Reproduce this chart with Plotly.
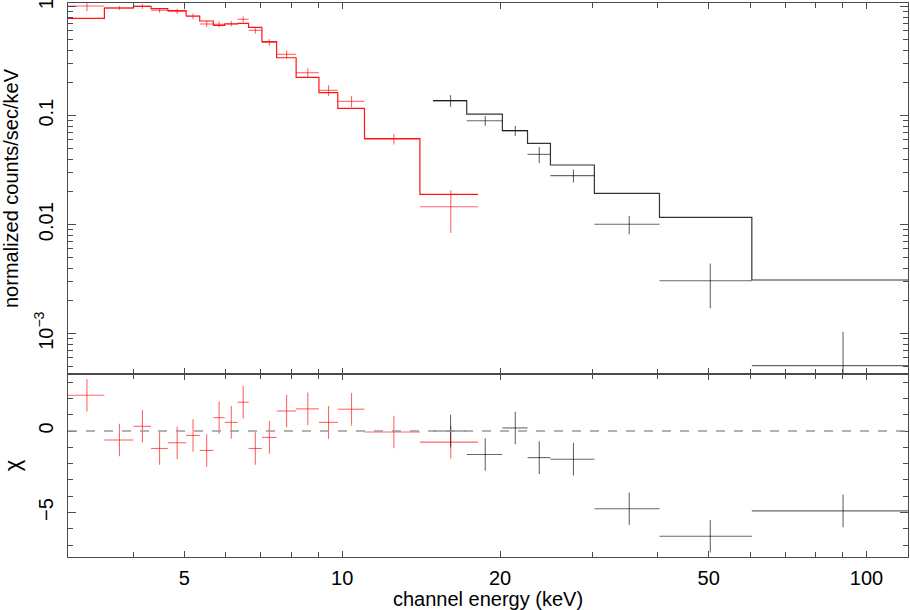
import math
import plotly.graph_objects as go

# red spectrum (low energy instrument)
red_lo = [3.0, 3.52, 4.00, 4.32, 4.65, 5.04, 5.35, 5.68, 5.97, 6.32, 6.63, 7.03, 7.50, 8.17, 9.03, 9.81, 11.03, 14.07]
red_hi = [3.52, 4.00, 4.32, 4.65, 5.04, 5.35, 5.68, 5.97, 6.32, 6.63, 7.03, 7.50, 8.17, 9.03, 9.81, 11.03, 14.07, 18.16]
red_data = [1.015, 0.973, 1.008, 0.927, 0.907, 0.816, 0.694, 0.690, 0.698, 0.766, 0.607, 0.471, 0.366, 0.248, 0.171, 0.1355, 0.0612, 0.0146]
red_err = [0.107, 0.041, 0.053, 0.045, 0.052, 0.052, 0.044, 0.047, 0.041, 0.045, 0.038, 0.032, 0.031, 0.024, 0.019, 0.016, 0.0069, 0.0062]
red_model = [0.783, 0.973, 1.008, 0.959, 0.919, 0.822, 0.739, 0.675, 0.694, 0.704, 0.647, 0.478, 0.340, 0.225, 0.1626, 0.1169, 0.0615, 0.0190]
red_chi = [2.2, -0.55, 0.29, -1.07, -0.72, -0.27, -1.19, 0.82, 0.53, 1.77, -1.07, -0.39, 1.23, 1.36, 0.53, 1.34, -0.06, -0.68]

# black spectrum (high energy instrument)
blk_lo = [14.91, 17.28, 20.21, 22.57, 24.96, 30.27, 40.29, 60.44]
blk_hi = [17.28, 20.21, 22.57, 24.96, 30.27, 40.29, 60.44, 120.0]
blk_data = [0.1373, 0.0900, 0.0729, 0.0442, 0.0282, 0.01009, 0.00306, 0.000509]
blk_err = [0.017, 0.0092, 0.0077, 0.0074, 0.0038, 0.0019, 0.00135, 0.000534]
blk_model = [0.1373, 0.1036, 0.0729, 0.0558, 0.0353, 0.01941, 0.01169, 0.00311]
blk_chi = [0.0, -1.44, 0.19, -1.63, -1.73, -4.77, -6.46, -4.9]

x_labels = [5, 10, 20, 50, 100]
y_labels = ['10<sup>\u22123</sup>', '0.01', '0.1', '1']

FONT = 'Liberation Sans, Arial, sans-serif'
AXCOL = '#4a4a4a'
HIDDEN = 'rgba(0,0,0,0)'


def add_spectrum(fig, lo, hi, data, err, model, chi, data_col, model_col):
    mid = [(a + b) / 2 for a, b in zip(lo, hi)]
    half = [(b - a) / 2 for a, b in zip(lo, hi)]
    # data crosses
    fig.add_trace(go.Scatter(x=mid, y=data, mode='markers', marker=dict(size=1, color=HIDDEN),
                             error_x=dict(type='data', array=half, width=0, color=data_col, thickness=1.1),
                             error_y=dict(type='data', array=err, width=0, color=data_col, thickness=1.1),
                             xaxis='x', yaxis='y'))
    # folded model as histogram steps
    fig.add_trace(go.Scatter(x=lo + [hi[-1]], y=model + [model[-1]], mode='lines', line_shape='hv',
                             line=dict(color=model_col, width=1.2), xaxis='x', yaxis='y'))
    # residuals
    fig.add_trace(go.Scatter(x=mid, y=chi, mode='markers', marker=dict(size=1, color=HIDDEN),
                             error_x=dict(type='data', array=half, width=0, color=data_col, thickness=1.1),
                             error_y=dict(type='constant', value=1, width=0, color=data_col, thickness=1.1),
                             xaxis='x2', yaxis='y2'))


fig = go.Figure()
add_spectrum(fig, red_lo, red_hi, red_data, red_err, red_model, red_chi,
             'rgba(255,0,0,0.6)', 'rgb(255,20,20)')
add_spectrum(fig, blk_lo, blk_hi, blk_data, blk_err, blk_model, blk_chi,
             'rgba(0,0,0,0.6)', 'rgba(0,0,0,0.8)')

x_minor = [m * 10 ** d for d in range(0, 3) for m in range(2, 10) if m * 10 ** d not in x_labels]
y_minor = [m * 10.0 ** d for d in range(-4, 1) for m in range(2, 10)]

axis_common = dict(showline=True, linecolor=AXCOL, linewidth=1.3, mirror='allticks', ticks='inside',
                   tickcolor=AXCOL, tickwidth=1, showgrid=False, zeroline=False, automargin=False,
                   ticklabeloverflow='allow',
                   tickfont=dict(family=FONT, size=20, color='black'))

fig.update_layout(width=910, height=610, showlegend=False,
                  margin=dict(l=68, r=2, t=3, b=53),
                  plot_bgcolor='white', paper_bgcolor='white',
                  font=dict(family=FONT, size=20, color='black'))

fig.update_layout(xaxis=dict(axis_common, type='log', range=[math.log10(3.0), math.log10(120)],
                             domain=[0, 1], anchor='y', matches='x2', showticklabels=False,
                             tickvals=x_labels, ticklen=6,
                             minor=dict(tickvals=x_minor, ticklen=5, ticks='inside', tickcolor=AXCOL)))

fig.update_layout(xaxis2=dict(axis_common, type='log', range=[math.log10(3.0), math.log10(120)],
                              domain=[0, 1], anchor='y2', tickvals=x_labels, ticktext=[str(v) for v in x_labels],
                              ticklen=6, ticklabelstandoff=3,
                              minor=dict(tickvals=x_minor, ticklen=5, ticks='inside', tickcolor=AXCOL),
                              title=dict(text='channel energy (keV)', standoff=2,
                                         font=dict(family=FONT, size=20))))

fig.update_layout(yaxis=dict(axis_common, type='log', range=[-3.37, 0.034], domain=[0.3303, 1], anchor='x',
                             tickvals=[0.001, 0.01, 0.1, 1], ticktext=y_labels, tickangle=-90, ticklen=8,
                             ticklabelstandoff=6,
                             minor=dict(tickvals=y_minor, ticklen=5, ticks='inside', tickcolor=AXCOL),
                             title=dict(text='normalized counts/sec/keV', standoff=10,
                                        font=dict(family=FONT, size=20))))

fig.update_layout(yaxis2=dict(axis_common, range=[-7.73, 3.5], domain=[0, 0.3303], anchor='x2',
                              tickvals=[-5, 0], ticktext=['\u22125', '0'], tickangle=-90, ticklen=8,
                              ticklabelstandoff=6,
                              minor=dict(dtick=1, ticklen=5, ticks='inside', tickcolor=AXCOL),
                              title=dict(text='\u03c7', standoff=10, font=dict(family=FONT, size=22))))

# zero reference in the residual panel
fig.add_shape(type='line', xref='x2 domain', x0=0, x1=1, yref='y2', y0=0, y1=0,
              line=dict(color='#999999', width=1.5, dash='dash'))

# page has a default 8px body margin; drop it so the figure fills the window
fig.write_html("out.html", config={'displayModeBar': False},
               post_script="document.body.style.margin='0';document.body.style.overflow='hidden';")
